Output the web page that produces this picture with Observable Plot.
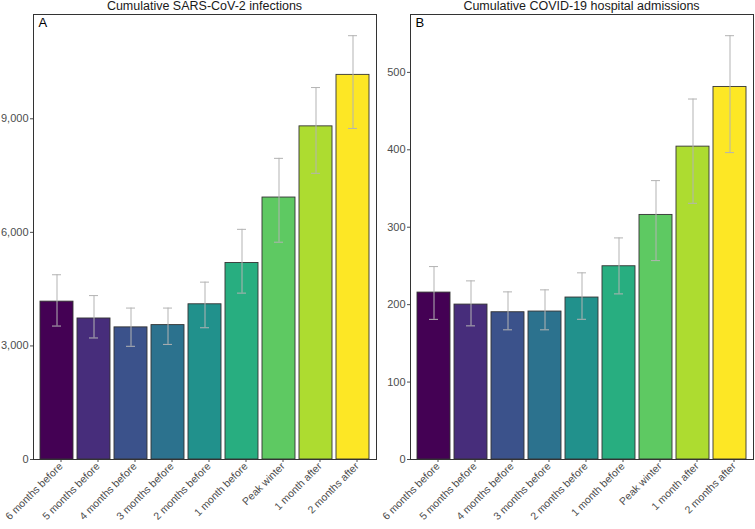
<!DOCTYPE html>
<html>
<head>
<meta charset="utf-8">
<script src="https://cdn.jsdelivr.net/npm/d3@7"></script>
<script src="https://cdn.jsdelivr.net/npm/@observablehq/plot@0.6"></script>
<style>
  html, body { margin: 0; padding: 0; background: #fff; }
  #wrap { position: relative; width: 755px; height: 529px; font-family: "Liberation Sans", Arial, sans-serif; }
  .title { position: absolute; top: 0; height: 14px; line-height: 13px; font-size: 12.5px; color: #1a1a1a; text-align: center; white-space: nowrap; z-index: 2; }
  .panel { position: absolute; top: 10px; z-index: 1; }
</style>
</head>
<body>
<div id="wrap">
  <div class="panel" id="pa" style="left:0px;"></div>
  <div class="panel" id="pb" style="left:380px;"></div>
  <div class="title" style="left:33px;width:343px;">Cumulative SARS-CoV-2 infections</div>
  <div class="title" style="left:410px;width:343px;">Cumulative COVID-19 hospital admissions</div>
</div>
<script>
const categories = ["6 months before", "5 months before", "4 months before", "3 months before", "2 months before", "1 month before", "Peak winter", "1 month after", "2 months after"];

const infections = [4170, 3725, 3490, 3550, 4100, 5190, 6920, 8800, 10160];
const infectionsLo = [3525, 3210, 2990, 3040, 3480, 4395, 5740, 7560, 8745];
const infectionsHi = [4880, 4330, 4000, 4000, 4685, 6080, 7955, 9825, 11195];
const infectionTicks = [0, 3000, 6000, 9000];

const admissions = [215.6, 200.1, 190.2, 191.1, 209.2, 249.6, 315.9, 404.1, 481.2];
const admissionsLo = [181.0, 172.6, 167.5, 167.5, 181.1, 213.9, 256.9, 330.9, 396.4];
const admissionsHi = [249.2, 230.7, 216.5, 219.1, 241.1, 286.2, 360.2, 465.6, 547.4];
const admissionTicks = [0, 100, 200, 300, 400, 500];

function panel({values, lo, hi, ticks, letter, width, marginLeft, marginRight}) {
  const data = categories.map((c, i) => ({cat: c, v: values[i], lo: lo[i], hi: hi[i]}));
  const ymax = d3.max(hi) * 1.05;
  return Plot.plot({
    width,
    height: 519,
    marginTop: 4,
    marginBottom: 70,
    marginLeft,
    marginRight,
    style: {fontFamily: "'Liberation Sans', Arial, sans-serif", fontSize: "11px", background: "transparent", overflow: "visible"},
    x: {domain: categories, paddingInner: 0.1, paddingOuter: 0.15, label: null},
    y: {domain: [0, ymax], label: null},
    color: {domain: categories, scheme: "viridis"},
    marks: [
      Plot.barY(data, {x: "cat", y: "v", fill: "cat", stroke: "#333", strokeWidth: 0.9}),
      Plot.ruleX(data, {x: "cat", y1: "lo", y2: "hi", stroke: "#b3b3b3", strokeWidth: 1}),
      Plot.tickY(data, {x: "cat", y: "lo", stroke: "#b3b3b3", strokeWidth: 1, insetLeft: 12, insetRight: 12}),
      Plot.tickY(data, {x: "cat", y: "hi", stroke: "#b3b3b3", strokeWidth: 1, insetLeft: 12, insetRight: 12}),
      Plot.axisY({ticks, tickFormat: d3.format(","), tickSize: 3, tickPadding: 2, color: "#4d4d4d", fontSize: 11, label: null}),
      Plot.axisX({tickSize: 3, tickPadding: 2, tickRotate: -45, color: "#4d4d4d", fontSize: 10.5, dx: 4, label: null}),
      Plot.frame({stroke: "#333", strokeWidth: 1}),
      Plot.text([letter], {frameAnchor: "top-left", dx: 5, dy: 3, fontSize: 13, fill: "#000", text: d => d})
    ]
  });
}

document.getElementById("pa").append(panel({values: infections, lo: infectionsLo, hi: infectionsHi, ticks: infectionTicks, letter: "A", width: 380, marginLeft: 33, marginRight: 4}));
document.getElementById("pb").append(panel({values: admissions, lo: admissionsLo, hi: admissionsHi, ticks: admissionTicks, letter: "B", width: 375, marginLeft: 30, marginRight: 2}));
</script>
</body>
</html>
